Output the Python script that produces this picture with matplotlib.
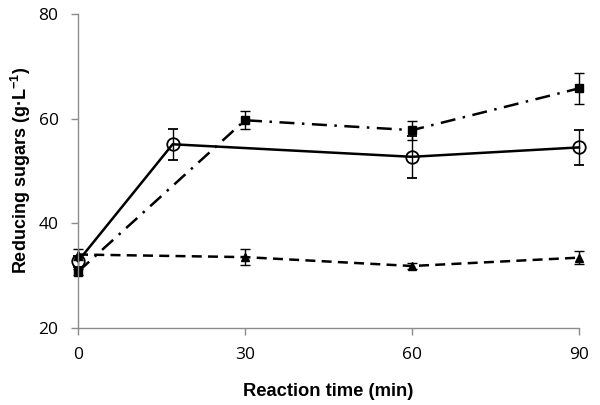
import matplotlib
matplotlib.use("Agg")
import matplotlib.pyplot as plt

# Data
t_circle = [0, 17, 60, 90]
y_circle = [32.7, 55.1, 52.7, 54.5]
e_circle = [1.0, 3.0, 4.0, 3.3]

t_square = [0, 30, 60, 90]
y_square = [30.7, 59.7, 57.8, 65.8]
e_square = [0.6, 1.7, 1.8, 3.0]

t_tri = [0, 30, 60, 90]
y_tri = [34.0, 33.5, 31.8, 33.4]
e_tri = [1.0, 1.6, 0.5, 1.2]

x_ticks = [0, 30, 60, 90]
y_ticks = [20, 40, 60, 80]

fig = plt.figure(figsize=(6.0, 4.05), dpi=100)
ax = fig.add_axes([0.13, 0.191, 0.835, 0.774])

common = dict(color="black", ecolor="black", elinewidth=1.0, capsize=3.5, capthick=1.0, linewidth=1.8)
ax.errorbar(t_tri, y_tri, yerr=e_tri, linestyle=(0, (4, 2.5)), marker="^", markersize=6,
            markerfacecolor="black", markeredgecolor="black", **common)
ax.errorbar(t_square, y_square, yerr=e_square, linestyle=(0, (6, 3, 1, 3)), marker="s", markersize=5.5,
            markerfacecolor="black", markeredgecolor="black", **common)
ax.errorbar(t_circle, y_circle, yerr=e_circle, linestyle="-", marker="o", markersize=9,
            markerfacecolor="none", markeredgecolor="black", markeredgewidth=1.3, **common)

ax.set_xlim(0, 90)
ax.set_ylim(20, 80)
ax.set_xticks(x_ticks)
ax.set_yticks(y_ticks)
for s in ["top", "right"]:
    ax.spines[s].set_visible(False)
for s in ["left", "bottom"]:
    ax.spines[s].set_color("#8c8c8c")
    ax.spines[s].set_linewidth(1.0)
ax.tick_params(direction="out", length=5, width=1.0, color="#8c8c8c", labelsize=12.5)
ax.tick_params(axis="x", pad=9)
ax.tick_params(axis="y", pad=9)
for lab in ax.get_xticklabels() + ax.get_yticklabels():
    lab.set_family(["Open Sans", "DejaVu Sans"])

ax.set_xlabel("Reaction time (min)", fontsize=13.2, fontweight="bold", family="Liberation Sans", labelpad=14)
ax.set_ylabel("Reducing sugars (g\u00b7L$^{\\mathregular{-1}}$)", fontsize=13.0, fontweight="bold",
              family="Liberation Sans", labelpad=4)
for c in ax.get_children():
    c.set_clip_on(False)

fig.savefig("out.png", dpi=100)
